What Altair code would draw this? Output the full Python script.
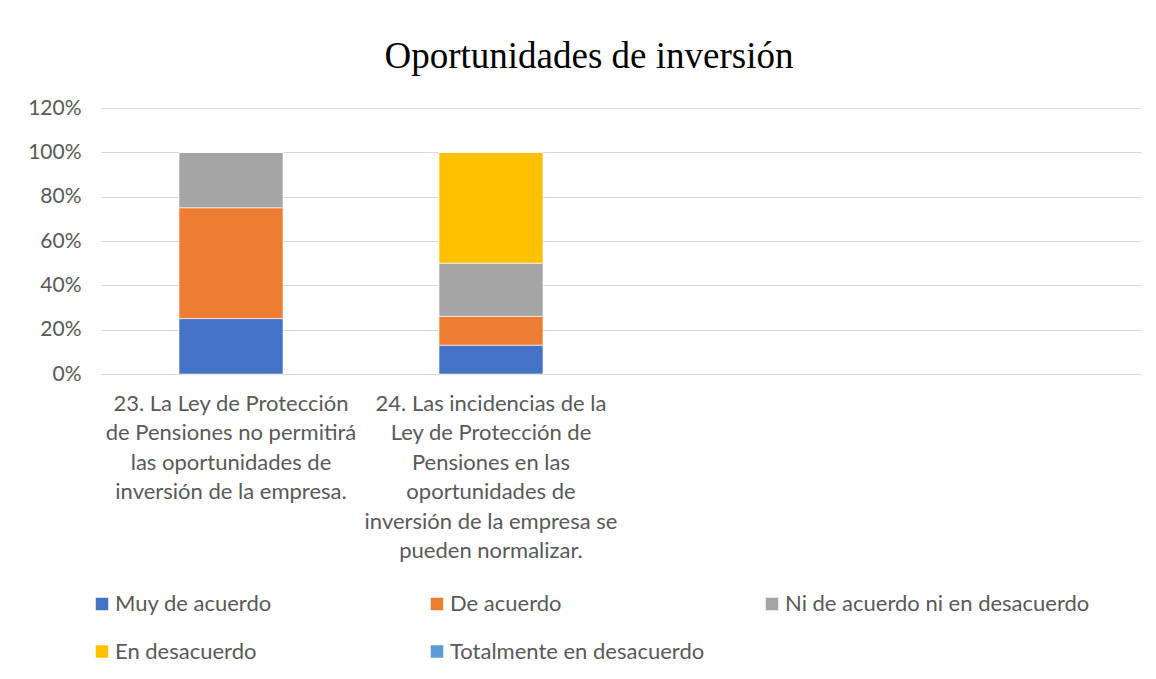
import altair as alt
import pandas as pd

# ---- data ----
category_ids = ["q23", "q24", "q25", "q26"]
category_labels = [
    "23. La Ley de Protección|de Pensiones no permitirá|las oportunidades de|inversión de la empresa.",
    "24. Las incidencias de la|Ley de Protección de|Pensiones en las|oportunidades de|inversión de la empresa se|pueden normalizar.",
    "",
    "",
]
series_names = [
    "Muy de acuerdo",
    "De acuerdo",
    "Ni de acuerdo ni en desacuerdo",
    "En desacuerdo",
    "Totalmente en desacuerdo",
]
series_colors = ["#4472C4", "#ED7D31", "#A5A5A5", "#FFC000", "#5B9BD5"]

muy_de_acuerdo = [0.25, 0.13]
de_acuerdo = [0.50, 0.13]
ni_ni = [0.25, 0.24]
en_desacuerdo = [0.00, 0.50]
totalmente = [0.00, 0.00]

series_values = [muy_de_acuerdo, de_acuerdo, ni_ni, en_desacuerdo, totalmente]
y_ticks = [0, 0.2, 0.4, 0.6, 0.8, 1.0, 1.2]

rows = []
for si, (name, vals) in enumerate(zip(series_names, series_values)):
    for ci, v in enumerate(vals):
        rows.append({"cat": category_ids[ci], "serie": name, "idx": si, "value": v})
df = pd.DataFrame(rows)

label_map = "{" + ",".join(f"'{k}': '{v}'" for k, v in zip(category_ids, category_labels)) + "}"
label_expr = f"split({label_map}[datum.value], '|')"

grey_text = "#595959"
font = "Lato"

chart = (
    alt.Chart(df)
    .mark_bar(stroke="white", strokeWidth=0.6)
    .encode(
        x=alt.X(
            "cat:N",
            scale=alt.Scale(domain=category_ids, paddingInner=0.6, paddingOuter=0.3),
            axis=alt.Axis(
                title=None,
                labelAngle=0,
                labelExpr=label_expr,
                labelFont=font,
                labelFontSize=22,
                labelColor=grey_text,
                labelLimit=0,
                labelLineHeight=29.5,
                labelPadding=19,
                labelBaseline="top",
                labelOverlap=False,
                ticks=False,
                grid=False,
                domain=True,
                domainColor="#d9d9d9",
                domainWidth=1.2,
            ),
        ),
        y=alt.Y(
            "value:Q",
            stack="zero",
            scale=alt.Scale(domain=[0, 1.2], nice=False),
            axis=alt.Axis(
                title=None,
                values=y_ticks,
                format=".0%",
                labelFont=font,
                labelFontSize=21,
                labelColor=grey_text,
                labelPadding=20,
                ticks=False,
                domain=False,
                grid=True,
                gridColor="#d9d9d9",
                gridWidth=1.2,
            ),
        ),
        color=alt.Color(
            "serie:N",
            scale=alt.Scale(domain=series_names, range=series_colors),
            legend=alt.Legend(
                title=None,
                orient="none",
                legendX=-10,
                legendY=485,
                direction="horizontal",
                columns=3,
                gridAlign="all",
                columnPadding=6,
                rowPadding=25.5,
                symbolType="square",
                symbolSize=156,
                symbolStrokeWidth=0,
                labelFont=font,
                labelFontSize=22,
                labelColor=grey_text,
                labelOffset=2,
                labelLimit=0,
            ),
        ),
        order=alt.Order("idx:Q", sort="ascending"),
    )
    .properties(
        width=1040,
        height=266,
        title=alt.TitleParams(
            "Oportunidades de inversión",
            font="Liberation Serif",
            fontSize=37,
            fontWeight="normal",
            color="#000000",
            anchor="middle",
            dx=-32,
            offset=21,
        ),
        autosize=alt.AutoSizeParams(type="none"),
        padding={"left": 93, "top": 100, "right": 7, "bottom": 297},
        background="white",
    )
    .configure_view(strokeWidth=0, stroke="transparent")
)

chart.save("out.html", embed_options={"renderer": "svg", "actions": False})
